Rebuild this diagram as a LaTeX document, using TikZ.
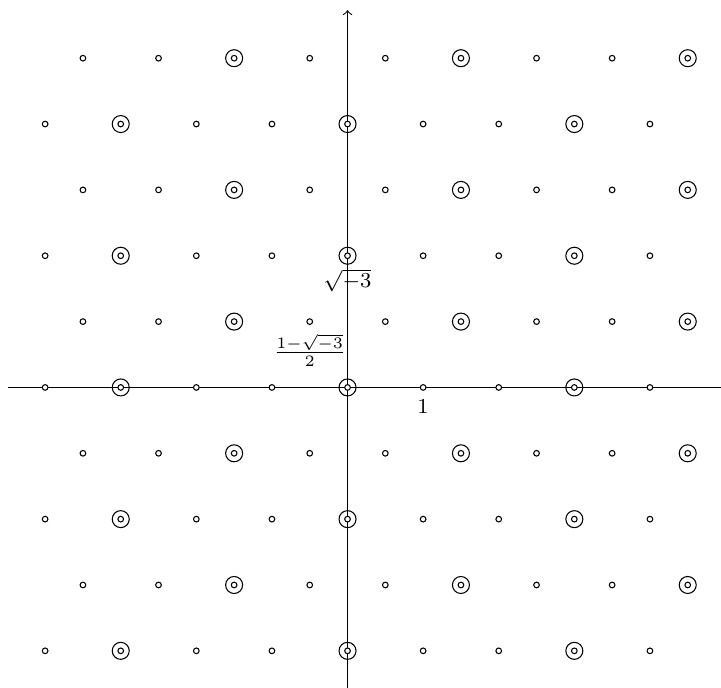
\documentclass[tikz,border=0pt]{standalone}
\begin{document}
\begin{tikzpicture}[x=1cm,y=1cm,
  latpt/.style={circle,draw,fill=white,inner sep=0pt,minimum size=0.75mm,line width=0.4pt},
  ring/.style={circle,draw,inner sep=0pt,minimum size=2.25mm,line width=0.4pt},
  lab/.style={font=\fontsize{8.5}{10}\selectfont}]
\useasboundingbox (-4.597,-3.975) rectangle (4.940,5.125);
\coordinate (xl) at (-4.49,0);
\coordinate (xr) at (4.94,0);
\coordinate (yb) at (0,-3.975);
\coordinate (yt) at (0,4.99);
\draw (xl) -- (xr);
\draw[->] (yb) -- (yt);
\foreach \j in {-4,...,5}{
  \foreach \i in {-4,...,4}{
    \pgfmathsetmacro{\odd}{mod(\j+10,2)}
    \pgfmathsetmacro{\xx}{\i+0.5*\odd}
    \pgfmathsetmacro{\yy}{0.871*\j}
    \pgfmathtruncatemacro{\circ}{ifthenelse(\odd==0, mod(\i+9,3)==0, mod(\i+8,3)==0)}
    \ifnum\circ=1
      \node[ring] (r\i_\j) at (\xx,\yy) {};
    \fi
    \node[latpt] (p\i_\j) at (\xx,\yy) {};
  }
}
\node[lab,below] (one) at (p1_0.south) {$1$};
\node[lab,below=0.1mm] (sq) at (p0_2.south) {$\sqrt{-3}$};
\node[lab,below] (fr) at (p-1_1.south) {$\frac{1-\sqrt{-3}}{2}$};
\end{tikzpicture}
\end{document}
